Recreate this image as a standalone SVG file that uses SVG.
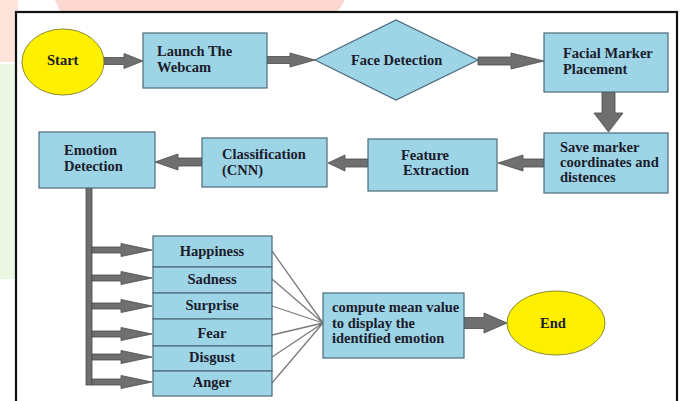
<svg xmlns="http://www.w3.org/2000/svg" width="682" height="401" viewBox="0 0 682 401">
<style>
.box{fill:#9dd5e7;stroke:#4b6b7b;stroke-width:1.2}
.oval{fill:#fff000;stroke:#8a8a30;stroke-width:1}
.arr{fill:#6f6f6f;stroke:#4a4a4a;stroke-width:0.8}
.ln{stroke:#7a7a7a;stroke-width:1.3;fill:none}
text{font-family:"Liberation Serif","Times New Roman",serif;font-weight:bold;font-size:14.5px;fill:#1b1b2b}
.c{text-anchor:middle}
</style>
<rect width="682" height="401" fill="#ffffff"/>
<g id="watermark">
<rect x="0" y="0" width="18" height="62" fill="#fde3da"/>
<rect x="0" y="64" width="15" height="215" fill="#ebf6e3"/>
<polygon points="55,0 345,0 338,11 60,11" fill="#fdd8d0"/>
</g>
<rect id="frame" x="16" y="12" width="661" height="395" fill="#ffffff" stroke="#111" stroke-width="2.2"/>
<g id="connectors">
<polygon class="arr" points="104,57.5 124,57.5 124,53.5 143,61 124,68.5 124,64.5 104,64.5"/>
<polygon class="arr" points="267,56.5 290,56.5 290,53 315,60 290,67 290,63.5 267,63.5"/>
<polygon class="arr" points="478,57 511,57 511,53 544,61 511,69 511,65 478,65"/>
<polygon class="arr" points="602,92 615,92 615,113 623,113 608.5,132 594,113 602,113"/>
<polygon class="arr" points="544,159 523,159 523,155 498,163 523,171 523,167 544,167"/>
<polygon class="arr" points="368,159 345,159 345,155 328,163 345,171 345,167 368,167"/>
<polygon class="arr" points="202,158 178,158 178,154 155,162 178,170 178,166 202,166"/>
<rect class="arr" x="86" y="188" width="6" height="197"/>
<polygon class="arr" points="92,247 121,247 121,243.5 152,250 121,256.5 121,253 92,253"/>
<polygon class="arr" points="92,275 121,275 121,271.5 152,278 121,284.5 121,281 92,281"/>
<polygon class="arr" points="92,303 121,303 121,299.5 152,306 121,312.5 121,309 92,309"/>
<polygon class="arr" points="92,331 121,331 121,327.5 152,334 121,340.5 121,337 92,337"/>
<polygon class="arr" points="92,354 121,354 121,350.5 152,357 121,363.5 121,360 92,360"/>
<polygon class="arr" points="92,379 121,379 121,375.5 152,382 121,388.5 121,385 92,385"/>
<path class="ln" d="M272,251 L323,323 M272,279 L323,323 M272,306 L323,323 M272,335 L323,323 M272,357 L323,323 M272,383 L323,323"/>
<polygon class="arr" points="464,317.5 484,317.5 484,313 507,323 484,333 484,328.5 464,328.5"/>
</g>
<g id="start"><ellipse class="oval" cx="63" cy="62" rx="41" ry="33"/><text x="47" y="65">Start</text></g>
<g id="launch"><rect class="box" x="143" y="33" width="124" height="55"/><text x="157" y="56">Launch The</text><text x="157" y="72">Webcam</text></g>
<g id="face"><polygon class="box" points="315,60 396,20 478,60 396,100"/><text x="351" y="65">Face Detection</text></g>
<g id="facial"><rect class="box" x="544" y="33" width="124" height="59"/><text x="563" y="58">Facial Marker</text><text x="563" y="74">Placement</text></g>
<g id="save"><rect class="box" x="544" y="133" width="124" height="60"/><text x="560" y="152">Save marker</text><text x="560" y="167">coordinates and</text><text x="560" y="182">distences</text></g>
<g id="feature"><rect class="box" x="368" y="139" width="129" height="52"/><text x="401" y="160">Feature</text><text x="403" y="175">Extraction</text></g>
<g id="classification"><rect class="box" x="202" y="138" width="125" height="49"/><text x="222" y="159">Classification</text><text x="222" y="175">(CNN)</text></g>
<g id="emotion"><rect class="box" x="39" y="132" width="116" height="56"/><text x="64" y="155">Emotion</text><text x="64" y="171">Detection</text></g>
<g id="emotions">
<rect class="box" x="153" y="236" width="119" height="31"/><text class="c" x="212" y="256">Happiness</text>
<rect class="box" x="153" y="267" width="119" height="26"/><text class="c" x="212" y="284">Sadness</text>
<rect class="box" x="153" y="293" width="119" height="26"/><text class="c" x="212" y="310">Surprise</text>
<rect class="box" x="153" y="319" width="119" height="27"/><text class="c" x="212" y="338">Fear</text>
<rect class="box" x="153" y="346" width="119" height="25"/><text class="c" x="212" y="362">Disgust</text>
<rect class="box" x="153" y="371" width="119" height="25"/><text class="c" x="212" y="387">Anger</text>
</g>
<g id="compute"><rect class="box" x="323" y="293" width="141" height="65"/><text x="332" y="312">compute mean value</text><text x="332" y="328">to display the</text><text x="332" y="343">identified emotion</text></g>
<g id="end"><ellipse class="oval" cx="556" cy="323" rx="49" ry="32"/><text x="540" y="328">End</text></g>
</svg>
